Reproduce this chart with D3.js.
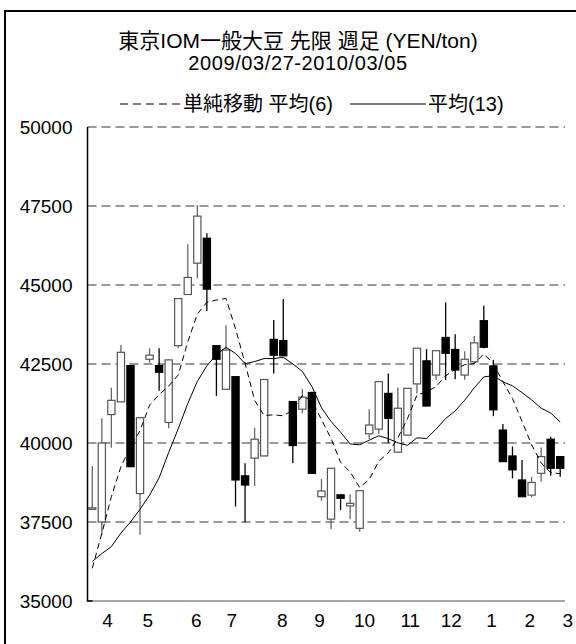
<!DOCTYPE html>
<html><head><meta charset="utf-8">
<script src="https://cdn.jsdelivr.net/npm/d3@7/dist/d3.min.js"></script>
<style>
html,body{margin:0;padding:0;background:#fff;}
svg{display:block;}
text{font-family:"Liberation Sans","Noto Sans CJK JP",Arial,sans-serif;fill:#000;}
</style></head>
<body>
<script>
const title1 = "東京IOM一般大豆 先限 週足 (YEN/ton)";
const title2 = "2009/03/27-2010/03/05";
const legendLabels = ["単純移動 平均(6)", "平均(13)"];

const open  = [37900,37500,40900,41300,42450,38400,42650,42450,40650,43080,
               44700,45690,46480,43080,41700,42100,38960,39520,39590,43280,
               43240,41310,41070,41600,38300,37590,38360,38010,37300,40290,
               40440,41570,39710,40250,41870,42600,42150,43340,42960,42150,
               42570,43870,42440,40410,39590,38830,38350,39040,40120,39570];
const high  = [39270,40780,41750,43100,42450,40800,43000,43000,42650,44570,
               46290,47530,46640,43100,43730,42100,39360,40480,42010,43890,
               44560,41310,41710,41600,38860,39200,38380,38380,38490,41070,
               41940,42200,41760,41730,43000,42970,42920,44450,43440,42900,
               43390,44340,42630,40600,39890,39460,38930,39860,40200,39570];
const low   = [37900,37100,39850,41300,39250,37100,42540,41650,40470,43000,
               44690,45210,44180,41490,41700,37990,37490,38640,39590,42200,
               42760,39360,40940,39040,38170,37270,37880,37590,37190,40120,
               40290,40000,39700,40250,41570,41170,42000,41990,42020,42000,
               42520,43000,40850,39410,38880,38300,38280,38780,38960,38930];
const close = [37950,40000,41350,42870,39250,40800,42780,42240,42630,44570,
               45240,47180,44870,42650,42940,38830,38670,40120,42010,42780,
               42760,39920,41450,39040,38480,39200,38250,38090,38490,40570,
               41940,40780,41100,41730,43000,41170,42920,42840,42310,42650,
               43170,43030,41050,39410,39150,38300,38750,39570,39200,39200];

const ma6  = [36035,37140,38300,39250,39880,40390,41200,41530,41800,42150,
              43200,44080,44455,44523,44575,43618,42523,41347,40870,40892,
              40862,41043,41507,41327,40738,40142,39390,39085,38592,38847,
              39423,39687,40162,40768,41520,41620,41783,42127,42328,42482,
              42510,42820,42508,41937,41410,40685,39948,39372,39063,39028];
const ma13 = [36250,36500,36720,37150,37500,37900,38350,38900,39700,40450,
              41250,41950,42441,42802,43028,42835,42512,42578,42672,42672,
              42712,42503,42263,41786,41117,40681,40342,39969,39943,40089,
              40229,40135,40005,39926,40163,40142,40440,40775,41015,41353,
              41744,42093,42130,41935,41810,41595,41365,41102,40950,40664];

const yTicks = [35000,37500,40000,42500,45000,47500,50000];
const monthLabels = ["4","5","6","7","8","9","10","11","12","1","2","3"];
const monthPos = [1.6,5.8,10.9,14.6,19.9,23.8,28.5,33.3,37.6,41.8,45.8,49.8];

const W = 576, H = 644;
const svg = d3.select("body").append("svg").attr("width", W).attr("height", H);

// outer frame
svg.append("rect").attr("x",5).attr("y",11).attr("width",640).attr("height",700)
   .attr("fill","none").attr("stroke","#000").attr("stroke-width",2);

const plotL = 87.5, plotR = 565, plotT = 127, plotB = 601;
const idx = d3.range(open.length);
const x = d3.scaleBand().domain(idx).range([plotL, plotR]).paddingInner(0.14).paddingOuter(0.07);
const xc = i => x(i) + x.bandwidth()/2;
const xPos = d3.scaleLinear().domain([0, idx.length-1]).range([xc(0), xc(idx.length-1)]);
const y = d3.scaleLinear().domain([35000, 50000]).range([plotB, plotT]);

// titles
svg.append("text").attr("x",298).attr("y",48).attr("text-anchor","middle")
   .attr("font-size",21).text(title1);
svg.append("text").attr("x",298).attr("y",70).attr("text-anchor","middle")
   .attr("font-size",20).attr("letter-spacing",0.6).text(title2);

// legend
const ly = 104;
svg.append("line").attr("x1",120).attr("x2",180).attr("y1",ly).attr("y2",ly)
   .attr("stroke","#000").attr("stroke-dasharray","8,5");
svg.append("text").attr("x",183).attr("y",ly+7).attr("font-size",20).text(legendLabels[0]);
svg.append("line").attr("x1",350).attr("x2",426).attr("y1",ly).attr("y2",ly)
   .attr("stroke","#000");
svg.append("text").attr("x",428).attr("y",ly+7).attr("font-size",20).text(legendLabels[1]);

// grid
svg.append("g").selectAll("line").data(yTicks.filter(v => v > 35000)).join("line")
   .attr("x1",plotL).attr("x2",plotR).attr("y1",d=>y(d)).attr("y2",d=>y(d))
   .attr("stroke","#333").attr("stroke-width",1).attr("stroke-dasharray","9,5");

// y axis
const yAxis = d3.axisLeft(y).tickValues(yTicks).tickSize(0).tickPadding(15).tickFormat(d3.format("d"));
const gy = svg.append("g").attr("transform",`translate(${plotL},0)`).call(yAxis);
gy.select(".domain").remove();
gy.selectAll("text").attr("font-size",19).attr("font-family",'"Liberation Sans",Arial,sans-serif');
svg.append("line").attr("x1",plotL).attr("x2",plotL).attr("y1",plotT).attr("y2",plotB)
   .attr("stroke","#000").attr("stroke-width",1.5);

// x axis
svg.append("line").attr("x1",plotL).attr("x2",plotR).attr("y1",plotB).attr("y2",plotB)
   .attr("stroke","#888").attr("stroke-width",1.5);
svg.append("line").attr("x1",plotL-0.75).attr("x2",plotL+5).attr("y1",plotB).attr("y2",plotB)
   .attr("stroke","#000").attr("stroke-width",1.5);
svg.append("g").selectAll("text").data(monthLabels).join("text")
   .attr("x",(d,i)=>xPos(monthPos[i])).attr("y",627).attr("text-anchor","middle")
   .attr("font-size",19).text(d=>d);

// candles
const up = i => close[i] >= open[i];
const cg = svg.append("g");
cg.selectAll("line.wick").data(idx).join("line").attr("class","wick")
  .attr("x1",xc).attr("x2",xc).attr("y1",i=>y(high[i])).attr("y2",i=>y(low[i]))
  .attr("stroke",i=>up(i)?"#666":"#000").attr("stroke-width",1.3);
cg.selectAll("rect").data(idx).join("rect")
  .attr("x",i=>x(i)+0.5).attr("width",x.bandwidth()-1)
  .attr("y",i=>y(Math.max(open[i],close[i])))
  .attr("height",i=>Math.max(1,Math.abs(y(open[i])-y(close[i]))))
  .attr("fill",i=>up(i)?"#fff":"#000")
  .attr("stroke",i=>up(i)?"#555":"#000").attr("stroke-width",1.2);

// moving averages
const line = d3.line().x((d,i)=>xc(i)).y(d=>y(d));
svg.append("path").datum(ma6).attr("d",line).attr("fill","none")
   .attr("stroke","#000").attr("stroke-width",1).attr("stroke-dasharray","6,4");
svg.append("path").datum(ma13).attr("d",line).attr("fill","none")
   .attr("stroke","#000").attr("stroke-width",1);
</script>
</body></html>
